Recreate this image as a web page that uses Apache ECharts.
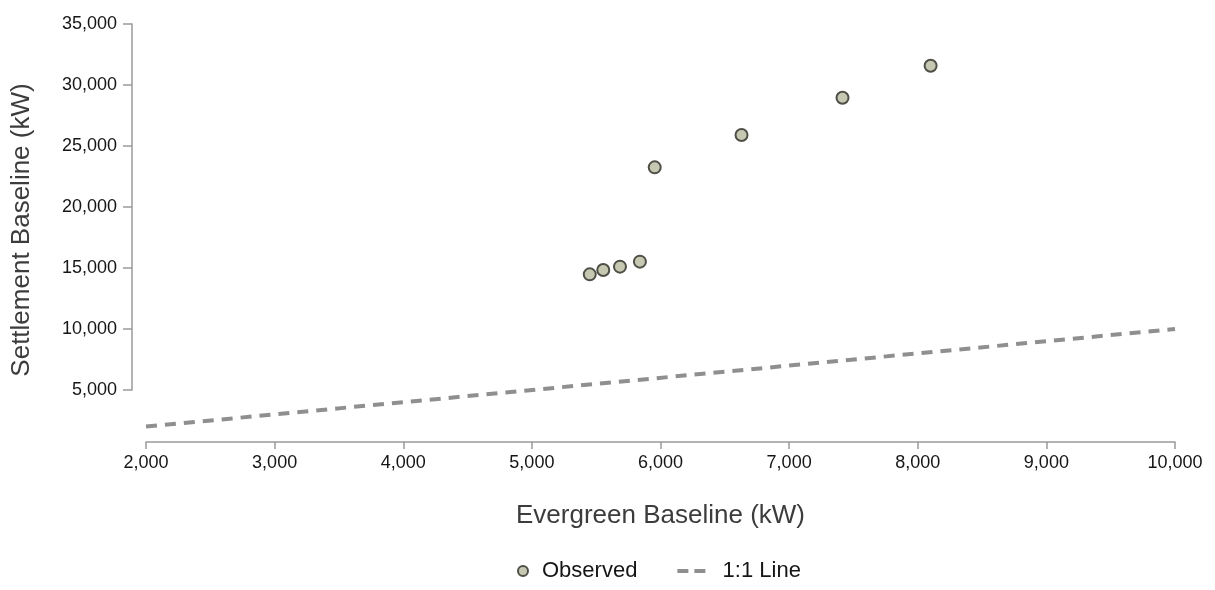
<!DOCTYPE html>
<html>
<head>
<meta charset="utf-8">
<title>Settlement vs Evergreen Baseline</title>
<script src="https://cdn.jsdelivr.net/npm/echarts@6/dist/echarts.min.js"></script>
<style>
  html, body { margin: 0; padding: 0; background: #ffffff; }
  #chart { width: 1215px; height: 590px; }
</style>
</head>
<body>
<div id="chart"></div>
<script>
// Observed baselines (kW)
const evergreenKW = [5450, 5555, 5685, 5840, 5955, 6630, 7415, 8100];
const settlementKW = [14480, 14840, 15110, 15520, 23250, 25900, 28960, 31580];

// Reference 1:1 line end points (kW)
const oneToOneKW = [2000, 10000];

const seriesNames = ['Observed', '1:1 Line'];
const xTitle = 'Evergreen Baseline (kW)';
const yTitle = 'Settlement Baseline (kW)';

const FONT = '"Liberation Sans", Arial, sans-serif';
const fmt = v => Number(v).toLocaleString('en-US');

const observedData = evergreenKW.map((x, i) => [x, settlementKW[i]]);
const lineData = oneToOneKW.map(v => [v, v]);

const axisLineStyle = { color: '#9a9a9a', width: 1.5 };
const lineColor = '#8f8f8f';

// two short dashes used as the legend key for the 1:1 line
const dashIcon = 'path://M0,0 H11 V4 H0 Z M17,0 H28 V4 H17 Z';

const chart = echarts.init(document.getElementById('chart'), null, { renderer: 'canvas' });

chart.setOption({
  backgroundColor: '#ffffff',
  animation: false,
  textStyle: { fontFamily: FONT },
  grid: { left: 146, right: 40, top: 24, bottom: 200, containLabel: false },
  xAxis: {
    type: 'value',
    min: 2000,
    max: 10000,
    interval: 1000,
    offset: 52,
    axisLine: { show: true, lineStyle: axisLineStyle },
    axisTick: { show: true, length: 7, lineStyle: axisLineStyle },
    axisLabel: { fontSize: 18, color: '#151515', margin: 12, fontFamily: FONT, formatter: fmt },
    splitLine: { show: false },
    name: xTitle,
    nameLocation: 'middle',
    nameGap: 61,
    nameTextStyle: { fontSize: 26, color: '#3c3c3c', fontFamily: FONT }
  },
  yAxis: {
    type: 'value',
    min: 5000,
    max: 35000,
    interval: 5000,
    offset: 14,
    axisLine: { show: true, lineStyle: axisLineStyle },
    axisTick: { show: true, length: 9, lineStyle: axisLineStyle },
    axisLabel: { fontSize: 18, color: '#151515', margin: 15, fontFamily: FONT, formatter: fmt },
    splitLine: { show: false },
    name: yTitle,
    nameLocation: 'middle',
    nameGap: 97,
    nameTextStyle: { fontSize: 26, color: '#3c3c3c', fontFamily: FONT, padding: [0, 46, 0, 0] }
  },
  legend: {
    left: 512,
    top: 554,
    itemWidth: 28,
    itemHeight: 10,
    itemGap: 40,
    // a little extra room between the dashed key and its label
    formatter: name => (name === seriesNames[1] ? '\u00a0\u00a0' + name : name),
    textStyle: { fontSize: 22, color: '#151515', fontFamily: FONT, lineHeight: 24 },
    data: [
      { name: seriesNames[0] },
      { name: seriesNames[1], icon: dashIcon, itemStyle: { color: lineColor } }
    ]
  },
  series: [
    {
      name: seriesNames[1],
      type: 'line',
      data: lineData,
      symbol: 'none',
      clip: false,
      z: 1,
      lineStyle: { color: lineColor, width: 4, type: [11, 8] },
      itemStyle: { color: lineColor }
    },
    {
      name: seriesNames[0],
      type: 'scatter',
      data: observedData,
      symbol: 'circle',
      symbolSize: 12,
      z: 3,
      itemStyle: { color: '#c6c8b2', borderColor: '#4f4f47', borderWidth: 2, opacity: 1 }
    }
  ]
});
</script>
</body>
</html>
